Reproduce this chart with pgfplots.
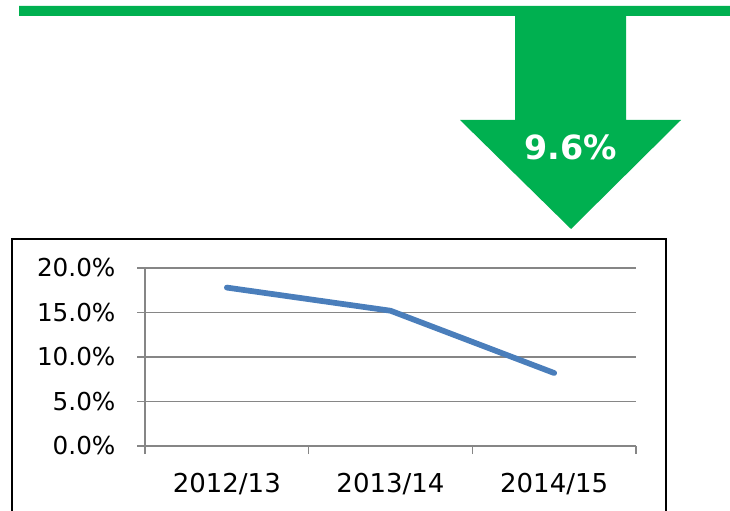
\documentclass[border=0pt]{standalone}
\usepackage{fontspec}
\setmainfont{DejaVu Sans}
\usepackage{pgfplots}
\pgfplotsset{compat=1.18}
\definecolor{exgreen}{HTML}{00B050}
\definecolor{exblue}{HTML}{4A7EBB}
\definecolor{gridgray}{HTML}{868686}
\begin{document}
\begin{tikzpicture}
\path[use as bounding box] (0,0) rectangle (547.5pt,382.5pt);
\begin{scope}[x=0.75pt,y=-0.75pt,yshift=382.5pt]
\fill[exgreen] (19,6) -- (730,6) -- (730,16) -- (626,16) -- (626,120) -- (681,120) -- (571,229) -- (460,120) -- (515,120) -- (515,16) -- (19,16) -- cycle;
\node[text=white,font=\bfseries\fontsize{25}{26}\selectfont] at (571,147) {9.6\%};
\draw[black,line width=1.5pt] (12,511) -- (12,239) -- (666,239) -- (666,511);
\end{scope}
\begin{axis}[
  at={(108.75pt,48pt)}, anchor=south west,
  scale only axis, width=368.25pt, height=133.5pt,
  xmin=0, xmax=3, ymin=0, ymax=20,
  axis x line*=bottom, axis y line*=left,
  axis line style={gridgray, line width=1.2pt},
  xtick={0,1,2,3}, xticklabels={},
  extra x ticks={0.5,1.5,2.5},
  extra x tick labels={2012/13,2013/14,2014/15},
  extra x tick style={major tick length=0pt, xticklabel style={font=\fontsize{19.5}{20}\selectfont, inner sep=0pt, anchor=north, yshift=-20pt}},
  ytick={0,5,10,15,20},
  ymajorgrids, grid style={gridgray, line width=1.2pt},
  tick align=outside, major tick length=6pt,
  tick style={gridgray, line width=1.2pt},
  /pgf/number format/assume math mode=true,
  yticklabel={\pgfmathprintnumber[fixed,fixed zerofill,precision=1]{\tick}\%},
  yticklabel style={font=\fontsize{18.5}{19}\selectfont, inner sep=0pt, anchor=east, xshift=-16pt},
  clip=false,
]
\addplot[exblue, line width=4.3pt, line cap=round, line join=round] coordinates {(0.5,17.8) (1.5,15.2) (2.5,8.2)};
\end{axis}
\end{tikzpicture}
\end{document}
